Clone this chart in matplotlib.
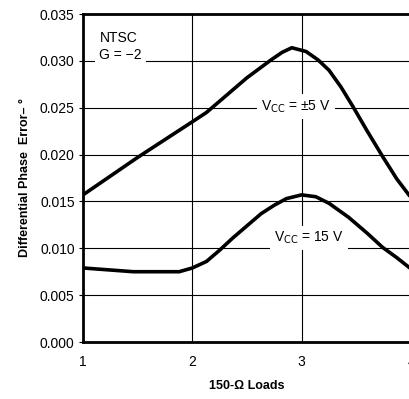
import numpy as np
import matplotlib.pyplot as plt

plt.rcParams['font.family'] = ['Liberation Sans', 'DejaVu Sans']

# V_CC = +/-5 V curve
x5 = [1.0, 1.5, 2.0, 2.13, 2.3, 2.5, 2.72, 2.82, 2.91, 3.04, 3.15, 3.25, 3.36, 3.47, 3.6, 3.74, 3.87, 4.0]
y5 = [0.0157, 0.0197, 0.0235, 0.0245, 0.0262, 0.0282, 0.0301, 0.0309, 0.0314, 0.0310, 0.0301, 0.0290, 0.0272, 0.0251, 0.0225, 0.0198, 0.0174, 0.0154]

# V_CC = 15 V curve
x15 = [1.0, 1.46, 1.88, 2.0, 2.13, 2.25, 2.37, 2.5, 2.63, 2.75, 2.86, 3.0, 3.13, 3.25, 3.43, 3.6, 3.74, 3.87, 4.0]
y15 = [0.0079, 0.0075, 0.0075, 0.0079, 0.0086, 0.0098, 0.0111, 0.0124, 0.0137, 0.0146, 0.0153, 0.0157, 0.0155, 0.0148, 0.0133, 0.0116, 0.0101, 0.0090, 0.0078]

xticks = [1, 2, 3, 4]
yticks = [0.000, 0.005, 0.010, 0.015, 0.020, 0.025, 0.030, 0.035]

fig = plt.figure(figsize=(4.09, 3.99), dpi=100)
ax = fig.add_axes([83/409, 57/399, 328/409, 328/399])

ax.plot(x5, y5, color='black', lw=2.6, solid_capstyle='butt')
ax.plot(x15, y15, color='black', lw=2.6, solid_capstyle='butt')

ax.set_xlim(1, 4)
ax.set_ylim(0, 0.035)
ax.set_xticks(xticks)
ax.set_yticks(yticks)
ax.set_yticklabels([f'{v:.3f}' for v in yticks])
ax.grid(True, color='black', lw=0.8)
ax.set_axisbelow(True)
ax.tick_params(direction='out', length=3, width=0.8, labelsize=10, pad=3)
ax.tick_params(axis='x', length=0, pad=9)
for s in ['left', 'bottom', 'top']:
    ax.spines[s].set_linewidth(2)
ax.spines['right'].set_visible(False)

box = dict(facecolor='white', edgecolor='none', pad=3)
ax.text(1.15, 0.0315, 'NTSC\nG = \u22122', fontsize=10, va='center', ha='left',
        linespacing=1.3, bbox=box)
ax.text(2.95, 0.0251, 'V$_{\\rm CC}$ = \u00b15 V', fontsize=10,
        ha='center', va='center', bbox=box)
ax.text(3.07, 0.0111, 'V$_{\\rm CC}$ = 15 V', fontsize=10, ha='center', va='center', bbox=box)

ax.set_xlabel('150-\u03a9 Loads', fontsize=9, fontweight='bold', labelpad=8)
ax.set_ylabel('Differential Phase  Error\u2013 \u00b0', fontsize=9, fontweight='bold', labelpad=6)

fig.savefig('out.png', dpi=100)
